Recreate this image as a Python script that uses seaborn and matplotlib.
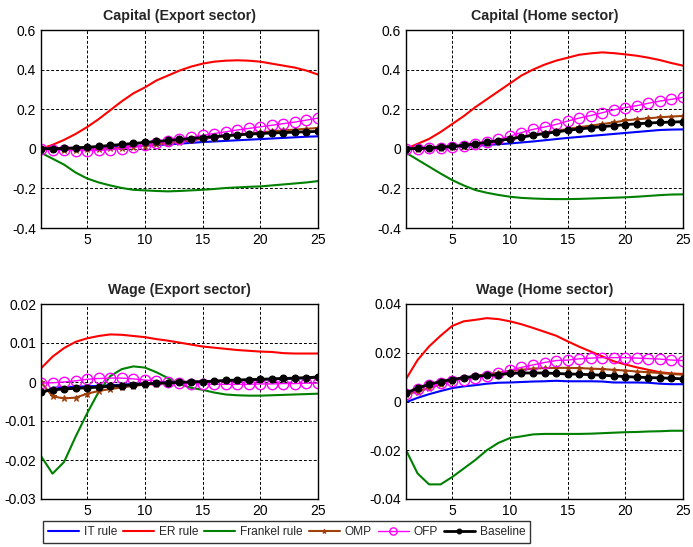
import matplotlib
matplotlib.use('Agg')
import matplotlib.pyplot as plt
import seaborn as sns
from matplotlib.ticker import FormatStrFormatter, MultipleLocator

sns.set_style('white')
plt.rcParams['font.family'] = ['Liberation Sans', 'DejaVu Sans']
plt.rcParams['axes.unicode_minus'] = False

periods = list(range(1, 26))
rules = ['IT rule', 'ER rule', 'Frankel rule', 'OMP', 'OFP', 'Baseline']
titles = ['Capital (Export sector)', 'Capital (Home sector)',
          'Wage (Export sector)', 'Wage (Home sector)']

# Capital, export sector
cap_exp_it = [0, 0.001, 0.002, 0.003, 0.005, 0.007, 0.009, 0.011, 0.013, 0.016, 0.019, 0.022, 0.026,
              0.030, 0.034, 0.037, 0.040, 0.043, 0.046, 0.049, 0.052, 0.055, 0.058, 0.061, 0.063]
cap_exp_er = [0.0, 0.02, 0.045, 0.075, 0.11, 0.15, 0.195, 0.24, 0.28, 0.31, 0.345, 0.37, 0.395,
              0.415, 0.43, 0.44, 0.445, 0.447, 0.445, 0.44, 0.43, 0.42, 0.41, 0.395, 0.375]
cap_exp_fr = [-0.02, -0.05, -0.08, -0.12, -0.15, -0.17, -0.185, -0.198, -0.207, -0.21, -0.213, -0.215,
              -0.213, -0.21, -0.207, -0.203, -0.198, -0.195, -0.192, -0.19, -0.185, -0.18, -0.175, -0.17, -0.163]
cap_exp_omp = [0, -0.003, -0.004, -0.004, -0.003, -0.001, 0.002, 0.006, 0.011, 0.016, 0.022, 0.028, 0.035,
               0.042, 0.05, 0.057, 0.064, 0.071, 0.077, 0.083, 0.088, 0.093, 0.097, 0.101, 0.105]
cap_exp_ofp = [0, -0.006, -0.008, -0.009, -0.009, -0.008, -0.005, 0.0, 0.008, 0.018, 0.028, 0.038, 0.048,
               0.058, 0.068, 0.077, 0.086, 0.095, 0.103, 0.111, 0.119, 0.127, 0.135, 0.145, 0.155]
cap_exp_base = [0, 0.001, 0.002, 0.005, 0.008, 0.012, 0.017, 0.022, 0.027, 0.032, 0.037, 0.042, 0.047,
                0.052, 0.057, 0.062, 0.066, 0.070, 0.074, 0.077, 0.080, 0.082, 0.084, 0.086, 0.088]

# Capital, home sector
cap_home_it = [0, 0.001, 0.003, 0.005, 0.008, 0.011, 0.015, 0.019, 0.023, 0.027, 0.032, 0.037, 0.043,
               0.049, 0.055, 0.060, 0.065, 0.070, 0.075, 0.080, 0.085, 0.090, 0.095, 0.097, 0.098]
cap_home_er = [0.0, 0.025, 0.05, 0.085, 0.125, 0.165, 0.21, 0.25, 0.29, 0.33, 0.37, 0.40, 0.425,
               0.445, 0.46, 0.475, 0.482, 0.487, 0.483, 0.477, 0.47, 0.46, 0.448, 0.433, 0.42]
cap_home_fr = [-0.02, -0.055, -0.09, -0.125, -0.158, -0.185, -0.208, -0.222, -0.233, -0.242, -0.248, -0.251,
               -0.253, -0.254, -0.254, -0.253, -0.251, -0.249, -0.247, -0.245, -0.242, -0.238, -0.234, -0.231, -0.23]
cap_home_omp = [0, 0.0, 0.002, 0.005, 0.009, 0.014, 0.021, 0.029, 0.04, 0.052, 0.062, 0.071, 0.080,
                0.090, 0.100, 0.109, 0.117, 0.125, 0.133, 0.143, 0.149, 0.154, 0.159, 0.163, 0.166]
cap_home_ofp = [0, 0.0, 0.002, 0.005, 0.01, 0.015, 0.022, 0.035, 0.047, 0.064, 0.082, 0.098, 0.11,
                0.123, 0.14, 0.155, 0.168, 0.182, 0.197, 0.208, 0.218, 0.23, 0.241, 0.25, 0.26]
cap_home_base = [0, 0.002, 0.004, 0.008, 0.012, 0.018, 0.025, 0.033, 0.041, 0.05, 0.059, 0.068, 0.077,
                 0.085, 0.093, 0.10, 0.106, 0.112, 0.117, 0.122, 0.126, 0.130, 0.133, 0.135, 0.137]

# Wage, export sector
wage_exp_it = [-0.003, -0.0015, -0.0013, -0.0012, -0.0011, -0.001, -0.0008, -0.0007, -0.0005, -0.0004,
               -0.0003, -0.0002, -0.0001, 0.0, 0.0001, 0.0002, 0.0003, 0.0004, 0.0005, 0.0006, 0.0007,
               0.0008, 0.0009, 0.001, 0.0011]
wage_exp_er = [0.0035, 0.0065, 0.0087, 0.0103, 0.0112, 0.0118, 0.0122, 0.0121, 0.0118, 0.0115, 0.011,
               0.0106, 0.0101, 0.0096, 0.0091, 0.0088, 0.0085, 0.0082, 0.008, 0.0078, 0.0077, 0.0074,
               0.0073, 0.0073, 0.0073]
wage_exp_fr = [-0.019, -0.0235, -0.0205, -0.014, -0.008, -0.0025, 0.0015, 0.0033, 0.004, 0.0037, 0.0025,
               0.001, -0.0005, -0.0015, -0.002, -0.0027, -0.0032, -0.0034, -0.0035, -0.0035, -0.0034,
               -0.0033, -0.0032, -0.0031, -0.003]
wage_exp_omp = [0.0, -0.0037, -0.0042, -0.004, -0.003, -0.0023, -0.0018, -0.0014, -0.001, -0.0007,
                -0.0005, -0.0003, -0.0001, 0.0, 0.0001, 0.0002, 0.0004, 0.0005, 0.0006, 0.0007, 0.0008,
                0.0009, 0.001, 0.0011, 0.0012]
wage_exp_ofp = [-0.0003, -0.0002, 0.0, 0.0003, 0.0007, 0.0009, 0.001, 0.001, 0.0008, 0.0005, 0.0003,
                0.0, -0.0002, -0.0004, -0.0005, -0.0006, -0.0006, -0.0006, -0.0006, -0.0005, -0.0005,
                -0.0004, -0.0004, -0.0003, -0.0003]
wage_exp_base = [-0.0025, -0.002, -0.0018, -0.0016, -0.0015, -0.0013, -0.0011, -0.0009, -0.0007, -0.0005,
                 -0.0003, -0.0002, -0.0001, 0.0, 0.0001, 0.0002, 0.0004, 0.0005, 0.0006, 0.0007, 0.0008,
                 0.0009, 0.001, 0.0011, 0.0013]

# Wage, home sector
wage_home_it = [-0.0003, 0.0015, 0.003, 0.0043, 0.0055, 0.0062, 0.0067, 0.0073, 0.0077, 0.0078, 0.008,
                0.0082, 0.0083, 0.0085, 0.0083, 0.0083, 0.0083, 0.0082, 0.0078, 0.0078, 0.0078, 0.0077,
                0.0073, 0.0071, 0.0071]
wage_home_er = [0.0092, 0.017, 0.0226, 0.027, 0.031, 0.0329, 0.0335, 0.0342, 0.0338, 0.0329, 0.0317,
                0.0302, 0.0286, 0.027, 0.0247, 0.0225, 0.0205, 0.0185, 0.0165, 0.0152, 0.014, 0.013,
                0.012, 0.0115, 0.0113]
wage_home_fr = [-0.0199, -0.0295, -0.034, -0.034, -0.031, -0.0275, -0.024, -0.02, -0.017, -0.015, -0.0143,
                -0.0135, -0.0133, -0.0133, -0.0133, -0.0133, -0.0132, -0.013, -0.0128, -0.0126, -0.0125,
                -0.0123, -0.0122, -0.012, -0.012]
wage_home_omp = [0.003, 0.004, 0.0055, 0.007, 0.0085, 0.0095, 0.0105, 0.0112, 0.0118, 0.0125, 0.013,
                 0.0135, 0.0137, 0.0138, 0.0138, 0.0137, 0.0135, 0.0133, 0.013, 0.0127, 0.0123, 0.012,
                 0.0117, 0.0113, 0.011]
wage_home_ofp = [0.003, 0.005, 0.0068, 0.0075, 0.0085, 0.009, 0.0095, 0.0105, 0.0115, 0.0128, 0.014,
                 0.015, 0.016, 0.0168, 0.017, 0.0175, 0.0178, 0.018, 0.018, 0.018, 0.0178, 0.0176,
                 0.0174, 0.017, 0.0168]
wage_home_base = [0.0034, 0.0055, 0.007, 0.0082, 0.009, 0.0098, 0.0103, 0.0107, 0.011, 0.0115, 0.0117,
                  0.0117, 0.0117, 0.0115, 0.0113, 0.0112, 0.011, 0.0108, 0.0105, 0.0102, 0.01, 0.0098,
                  0.0097, 0.0095, 0.0093]

panels = [
    [cap_exp_it, cap_exp_er, cap_exp_fr, cap_exp_omp, cap_exp_ofp, cap_exp_base],
    [cap_home_it, cap_home_er, cap_home_fr, cap_home_omp, cap_home_ofp, cap_home_base],
    [wage_exp_it, wage_exp_er, wage_exp_fr, wage_exp_omp, wage_exp_ofp, wage_exp_base],
    [wage_home_it, wage_home_er, wage_home_fr, wage_home_omp, wage_home_ofp, wage_home_base],
]
ylims = [(-0.4, 0.6), (-0.4, 0.6), (-0.03, 0.02), (-0.04, 0.04)]
ysteps = [0.2, 0.2, 0.01, 0.02]

styles = [
    dict(color='#0000ff', lw=1.5),
    dict(color='#ff0000', lw=1.5),
    dict(color='#008000', lw=1.5),
    dict(color='#a0400a', lw=1.5, marker='*', ms=5, mec='#a0400a'),
    dict(color='#ff00ff', lw=1.0, marker='o', ms=7.5, mfc='none', mec='#ff00ff', mew=1.0),
    dict(color='black', lw=2.0, marker='o', ms=5, mfc='black', mec='black'),
]

fig = plt.figure(figsize=(6.93, 5.47), dpi=100)
W, H = 693, 547
boxes = [(41, 30), (406, 30), (41, 304), (406, 304)]
heights = [198, 198, 195, 195]

axes = []
for k in range(4):
    x0, y0 = boxes[k]
    ax = fig.add_axes([x0 / W, 1 - (y0 + heights[k]) / H, 277 / W, heights[k] / H])
    for name, vals, st in zip(rules, panels[k], styles):
        sns.lineplot(x=periods, y=vals, ax=ax, label=name, **st)
    if ax.get_legend() is not None:
        ax.get_legend().remove()
    ax.set_xlim(1, 25)
    ax.set_ylim(*ylims[k])
    ax.xaxis.set_major_locator(MultipleLocator(5))
    ax.yaxis.set_major_locator(MultipleLocator(ysteps[k]))
    ax.yaxis.set_major_formatter(FormatStrFormatter('%g'))
    ax.grid(True, linestyle=(0, (3, 2)), color='black', lw=0.7)
    ax.tick_params(direction='in', length=3, labelsize=10, colors='black')
    for s in ax.spines.values():
        s.set_color('black')
        s.set_linewidth(1.0)
    ax.set_xlabel('')
    ax.set_ylabel('')
    ax.set_title(titles[k], fontsize=10.3, fontweight='bold', pad=7)
    axes.append(ax)

handles, labels = axes[0].get_legend_handles_labels()
fig.legend(handles, labels, loc='upper left', bbox_to_anchor=(43 / W, 1 - 521 / H),
           ncol=6, fontsize=8.6, frameon=True, fancybox=False, edgecolor='black',
           handlelength=2.6, handletextpad=0.4, columnspacing=0.5, borderpad=0.4,
           borderaxespad=0, markerscale=0.7)

fig.savefig('out.png', dpi=100)
